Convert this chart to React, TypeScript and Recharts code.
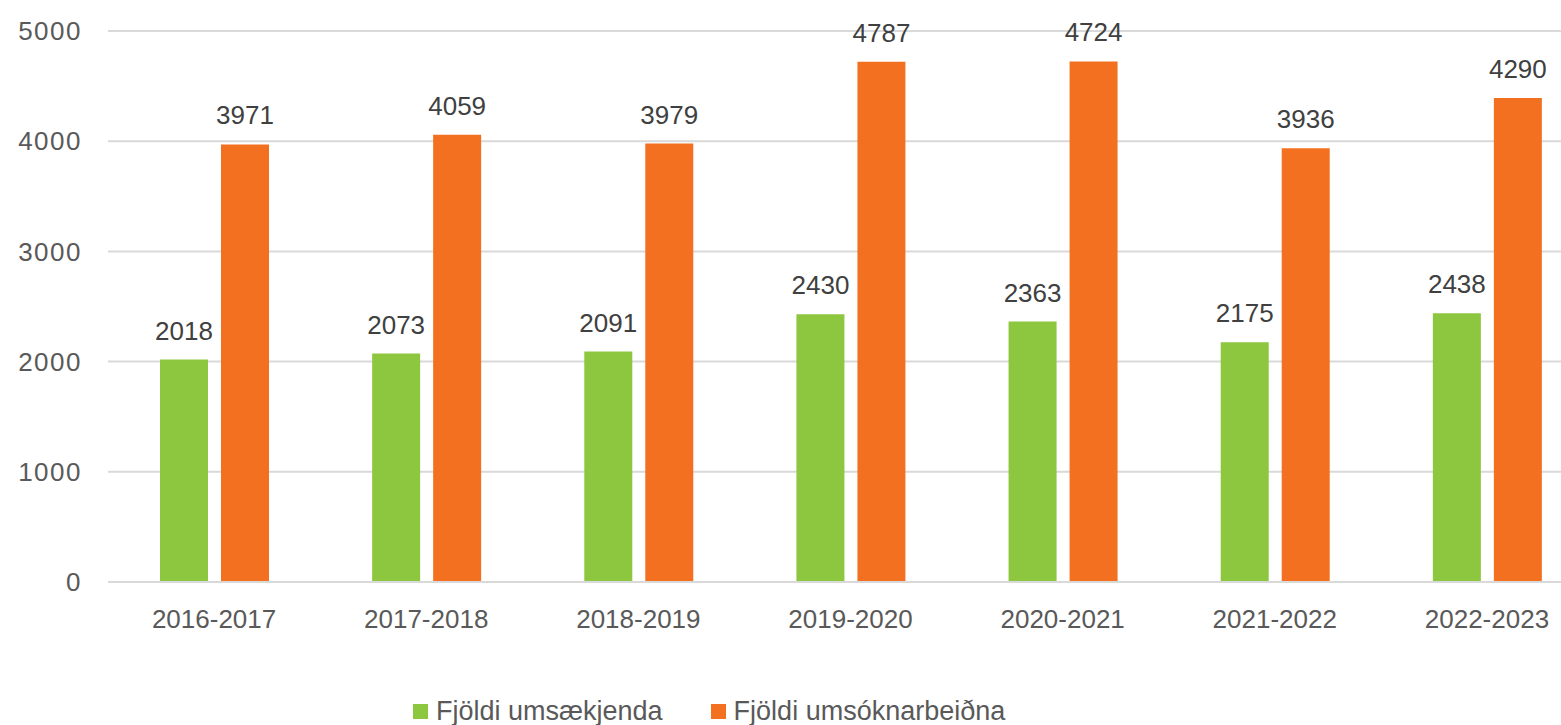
import React from 'react';
import { BarChart, Bar, XAxis, YAxis, CartesianGrid, Legend, LabelList } from 'recharts';

const periods = ['2016-2017', '2017-2018', '2018-2019', '2019-2020', '2020-2021', '2021-2022', '2022-2023'];
// bar heights as drawn
const applicants = [2018, 2073, 2091, 2430, 2363, 2175, 2438];
const requests = [3971, 4059, 3979, 4720, 4724, 3936, 4392];
// numbers printed over the bars
const applicantLabels = [2018, 2073, 2091, 2430, 2363, 2175, 2438];
const requestLabels = [3971, 4059, 3979, 4787, 4724, 3936, 4290];
const yTicks = [0, 1000, 2000, 3000, 4000, 5000];

const GREEN = '#8DC63F';
const ORANGE = '#F37021';
const FONT = '"Liberation Sans", Arial, sans-serif';

const data = periods.map((p, i) => ({
  period: p,
  applicants: applicants[i],
  applicantsLabel: applicantLabels[i],
  requests: requests[i],
  requestsLabel: requestLabels[i],
}));

const legendItems = [
  { name: 'Fjöldi umsækjenda', color: GREEN },
  { name: 'Fjöldi umsóknarbeiðna', color: ORANGE },
];

function ChartLegend() {
  return (
    <div style={{ display: 'flex', alignItems: 'center', fontFamily: FONT, fontSize: 27, color: '#595959', whiteSpace: 'nowrap' }}>
      {legendItems.map((it, i) => (
        <div key={it.name} style={{ display: 'flex', alignItems: 'center', marginRight: i === 0 ? 48 : 0 }}>
          <span style={{ width: 15, height: 15, background: it.color, marginRight: 8, display: 'inline-block' }} />
          <span>{it.name}</span>
        </div>
      ))}
    </div>
  );
}

export default function App() {
  return (
    <div style={{ position: 'fixed', left: 0, top: 0, width: 1561, height: 725, overflow: 'hidden', background: '#fff' }}>
      <BarChart
        width={1593}
        height={725}
        data={data}
        margin={{ top: 31, right: 0, bottom: 83, left: 0 }}
        barGap={13}
        barSize={48}
      >
        <CartesianGrid vertical={false} stroke="#d9d9d9" strokeWidth={2} />
        <XAxis
          dataKey="period"
          height={60}
          axisLine={{ stroke: '#d9d9d9', strokeWidth: 2 }}
          tickLine={false}
          tickSize={0}
          tickMargin={28}
          tick={{ fill: '#595959', fontSize: 26, fontFamily: FONT }}
        />
        <YAxis
          width={108}
          domain={[0, 5000]}
          ticks={yTicks}
          axisLine={false}
          tickLine={false}
          tickSize={0}
          tickMargin={26}
          tick={{ fill: '#595959', fontSize: 26, fontFamily: FONT, letterSpacing: 1.5 }}
        />
        <Legend
          layout="horizontal"
          verticalAlign="middle"
          align="center"
          wrapperStyle={{ position: 'absolute', left: 413, top: 696, width: 'auto' }}
          content={() => <ChartLegend />}
        />
        <Bar dataKey="applicants" name="Fjöldi umsækjenda" fill={GREEN} isAnimationActive={false}>
          <LabelList dataKey="applicantsLabel" position="top" offset={20} fill="#404040" fontSize={26} fontFamily={FONT} />
        </Bar>
        <Bar dataKey="requests" name="Fjöldi umsóknarbeiðna" fill={ORANGE} isAnimationActive={false}>
          <LabelList dataKey="requestsLabel" position="top" offset={20} fill="#404040" fontSize={26} fontFamily={FONT} />
        </Bar>
      </BarChart>
    </div>
  );
}
